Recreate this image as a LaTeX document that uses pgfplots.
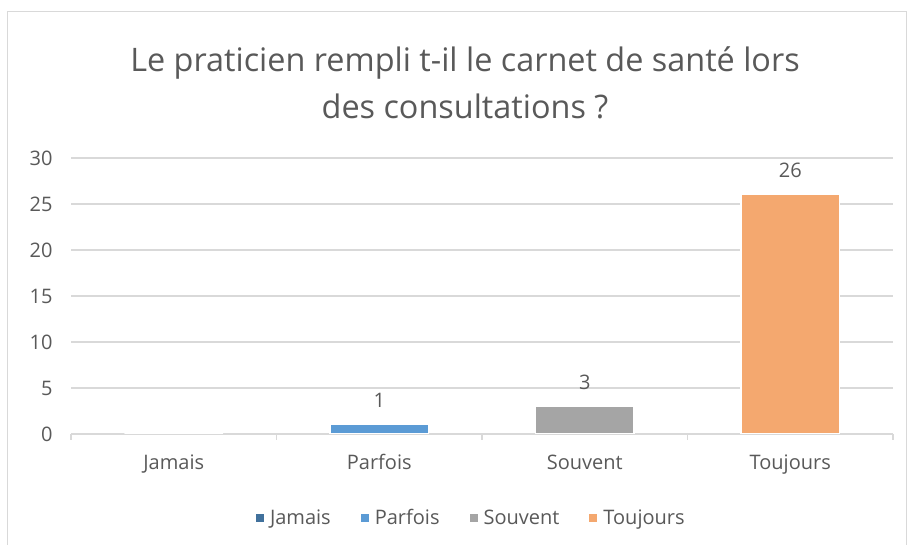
\documentclass[border=0pt]{standalone}
\usepackage{fontspec}
\setmainfont{Open Sans}
\usepackage{pgfplots}
\pgfplotsset{compat=1.18}
\definecolor{txt}{HTML}{595959}
\definecolor{gridc}{HTML}{D9D9D9}
\definecolor{cJ}{HTML}{41719C}
\definecolor{cP}{HTML}{5B9BD5}
\definecolor{cS}{HTML}{A5A5A5}
\definecolor{cT}{HTML}{F4A86F}
\begin{document}
\begin{tikzpicture}
\path[use as bounding box] (0,0) rectangle (909pt,545pt);
\draw[gridc, line width=1pt] (7pt,-5pt) rectangle (906pt,533pt);
\node[text=txt, font=\fontsize{32.4}{38}\selectfont] at (465pt,482pt) {Le praticien rempli t-il le carnet de santé lors};
\node[text=txt, font=\fontsize{32.4}{38}\selectfont] at (465pt,439pt) {des consultations ?};
\begin{axis}[
  at={(71pt,111pt)}, anchor=south west,
  scale only axis, width=822pt, height=276pt,
  xmin=-0.5, xmax=3.5, ymin=0, ymax=30,
  ytick={0,5,...,30},
  xtick={0,1,2,3},
  xticklabels={Jamais,Parfois,Souvent,Toujours},
  minor xtick={-0.5,0.5,1.5,2.5,3.5},
  /pgf/number format/assume math mode=true,
  ymajorgrids, major grid style={gridc, line width=1.2pt},
  axis y line*=left, axis x line*=bottom,
  y axis line style={draw=none},
  x axis line style={gridc, line width=1.2pt, -},
  major tick length=0pt,
  minor tick length=6pt,
  minor x tick style={gridc, line width=1.2pt},
  xtick pos=bottom, tick align=outside,
  tick label style={text=txt, font=\fontsize{20}{24}\selectfont},
  yticklabel style={xshift=-15pt},
  xticklabel style={yshift=-17pt},
  ybar, bar width=0.48, bar shift=0pt,
  every axis plot/.append style={draw=white, line width=1.2pt, bar shift=0pt},
  nodes near coords style={text=txt, font=\fontsize{20}{24}\selectfont, anchor=south, yshift=13pt},
  legend style={at={(0.487,-0.304)}, anchor=center, draw=none, legend columns=4,
    font=\fontsize{20}{24}\selectfont, text=txt,
    /tikz/every odd column/.append style={column sep=0pt},
    /tikz/every even column/.append style={column sep=28pt}},
  legend image code/.code={\fill[#1, draw=none] (0pt,-4pt) rectangle (8pt,4pt);
    \path[draw=none, fill=none] (0pt,0pt) -- (12pt,0pt);},
]
\addplot[fill=cJ] coordinates {(0,0)};
\addlegendentry{Jamais}
\addplot[fill=cP, nodes near coords] coordinates {(1,1)};
\addlegendentry{Parfois}
\addplot[fill=cS, nodes near coords] coordinates {(2,3)};
\addlegendentry{Souvent}
\addplot[fill=cT, nodes near coords] coordinates {(3,26)};
\addlegendentry{Toujours}
\end{axis}
\end{tikzpicture}
\end{document}
